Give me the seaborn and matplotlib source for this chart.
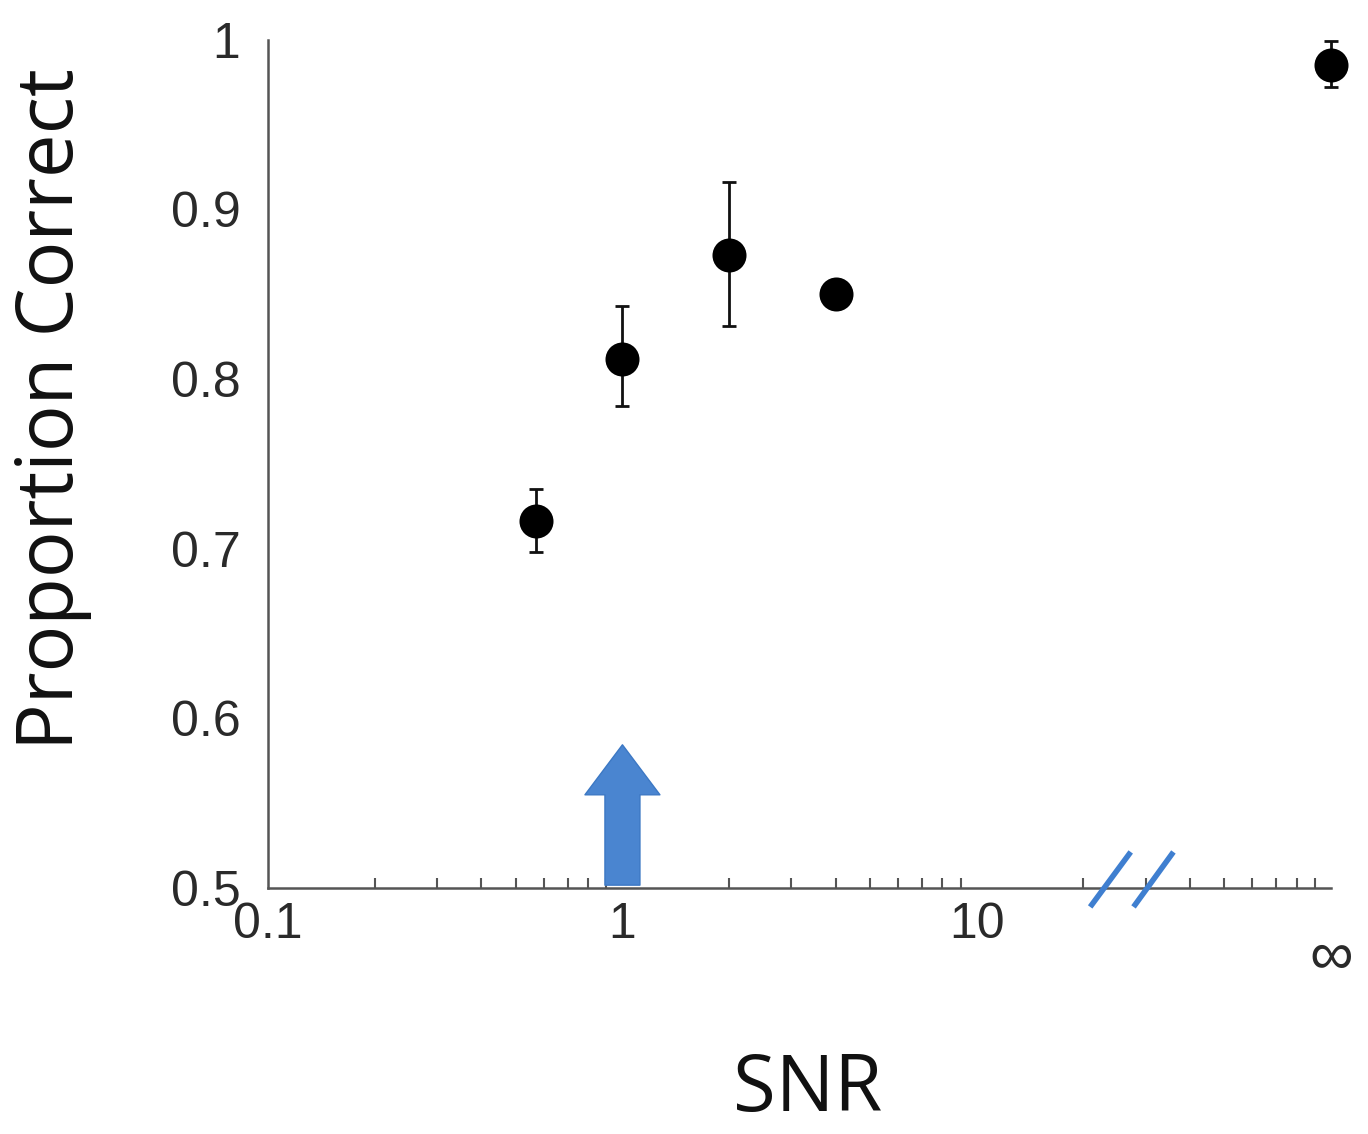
import numpy as np
import pandas as pd
import seaborn as sns
import matplotlib.pyplot as plt
import matplotlib.transforms as mtransforms
from matplotlib.ticker import LogLocator, NullFormatter

# data (the last point is SNR = infinity, drawn at 100)
snr = [0.57, 1.0, 2.0, 4.0, 100.0]
prop_correct = [0.716, 0.812, 0.873, 0.850, 0.985]
err_lo = [0.018, 0.028, 0.042, 0.005, 0.013]
err_hi = [0.019, 0.031, 0.043, 0.005, 0.014]

xtick_vals = [0.1, 1, 10, 100]
xtick_labels = ['0.1', '1', '10', '∞']
ytick_vals = [0.5, 0.6, 0.7, 0.8, 0.9, 1.0]
ytick_labels = ['0.5', '0.6', '0.7', '0.8', '0.9', '1']

# arrow marking SNR = 1, and the axis break
arrow_x = 1.0
arrow_y = (0.5, 0.586)
break_x = [(20.9, 27.2), (27.7, 35.9)]
break_y = (0.4888, 0.5212)

df = pd.DataFrame({'snr': snr, 'pc': prop_correct})

sns.set_style('white')
plt.rcParams['font.family'] = ['Liberation Sans', 'DejaVu Sans']

fig = plt.figure(figsize=(13.68, 11.34), dpi=100)
ax = fig.add_axes([0.196, 0.217, 0.777, 0.748])

ax.errorbar(snr, prop_correct, yerr=[err_lo, err_hi], fmt='none',
            ecolor='#111111', elinewidth=2.0, capsize=5, capthick=2.0,
            zorder=2, clip_on=False)
sns.scatterplot(data=df, x='snr', y='pc', ax=ax, s=600, color='black',
                edgecolor='black', linewidth=0, zorder=3, legend=False,
                clip_on=False)

ax.set_xscale('log')
ax.set_xlim(0.1, 100)
ax.set_ylim(0.5, 1.0)

# blue arrow at SNR = 1
ax.annotate('', xy=(arrow_x, arrow_y[1]), xytext=(arrow_x, arrow_y[0]),
            arrowprops=dict(arrowstyle='simple,head_length=1.0,head_width=1.5,tail_width=0.7',
                            mutation_scale=36, facecolor='#4a85d0', edgecolor='#3c78c4'),
            zorder=4)

# axis break marks
for bx in break_x:
    ax.plot(bx, break_y, color='#3f7fd0', lw=4, clip_on=False, zorder=5,
            solid_capstyle='butt')

ax.set_xticks(xtick_vals)
ax.set_xticklabels(xtick_labels)
ax.xaxis.set_minor_locator(LogLocator(base=10, subs=np.arange(2, 10) * 1.0, numticks=20))
ax.xaxis.set_minor_formatter(NullFormatter())
ax.set_yticks(ytick_vals)
ax.set_yticklabels(ytick_labels)

for side in ['top', 'right']:
    ax.spines[side].set_visible(False)
for side in ['left', 'bottom']:
    ax.spines[side].set_color('#555555')
    ax.spines[side].set_linewidth(1.8)

ax.tick_params(axis='both', which='major', direction='in', length=14, width=1.8,
               color='#555555', labelsize=36, labelcolor='#2a2a2a')
ax.tick_params(axis='x', which='major', pad=10, length=12)
ax.tick_params(axis='y', which='major', pad=20)
ax.tick_params(axis='x', which='minor', direction='in', length=7, width=1.5,
               color='#555555', bottom=True)

# infinity label sits lower and is flatter
inf_lab = ax.get_xticklabels()[-1]
inf_lab.set_fontsize(44)
inf_lab.set_transform(inf_lab.get_transform() +
                      mtransforms.ScaledTranslation(0, -0.28, fig.dpi_scale_trans))

ax.set_xlabel('SNR', family=['Open Sans', 'DejaVu Sans'], fontsize=56,
              color='#111111', va='baseline')
ax.set_ylabel('Proportion Correct', family=['Open Sans', 'DejaVu Sans'], fontsize=56,
              color='#111111', va='baseline')
ax.xaxis.set_label_coords(0.508, -0.263)
ax.yaxis.set_label_coords(-0.184, 0.564)

fig.savefig('out.png', dpi=100)
